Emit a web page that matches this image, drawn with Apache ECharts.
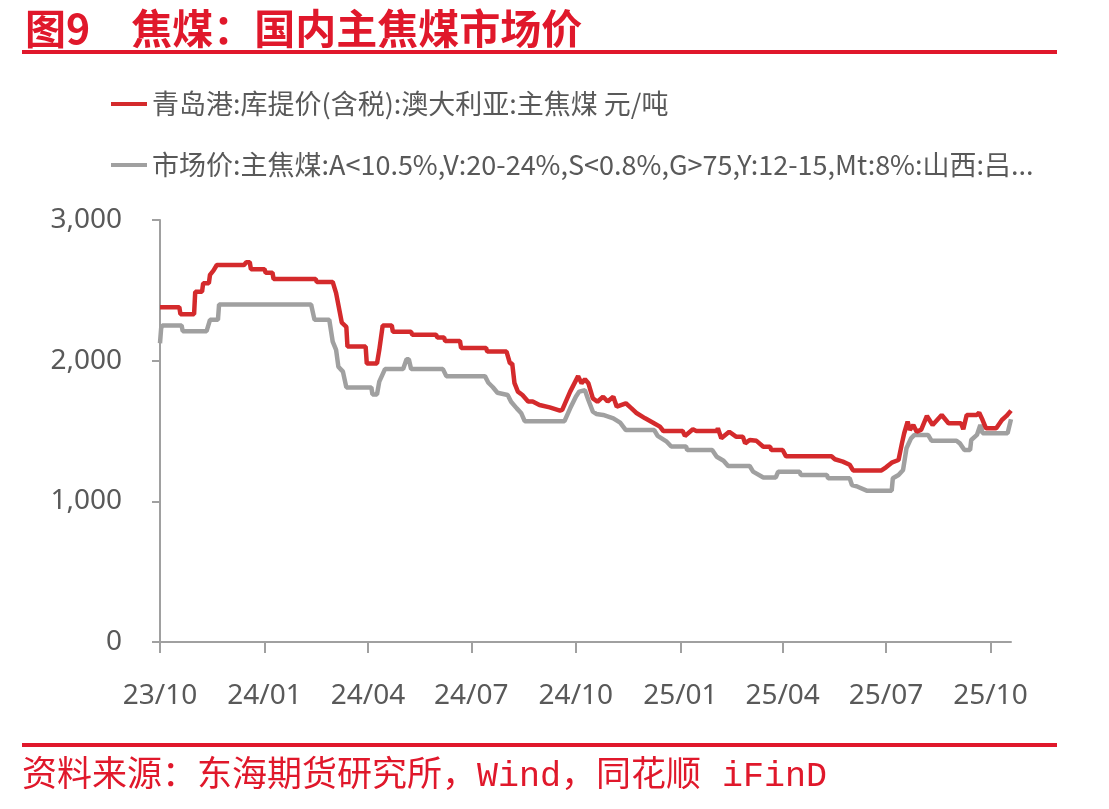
<!DOCTYPE html>
<html>
<head>
<meta charset="utf-8">
<script src="https://cdn.jsdelivr.net/npm/echarts@6/dist/echarts.min.js"></script>
<style>
  html, body { margin: 0; padding: 0; background: #fff; }
  #chart { width: 1109px; height: 809px; }
</style>
</head>
<body>
<div id="chart"></div>
<script>
// 青岛港库提价(澳洲主焦煤)
var redDates = ['2023-10-01','2023-10-18','2023-10-19','2023-10-31','2023-11-01','2023-11-07','2023-11-08','2023-11-13','2023-11-14','2023-11-17','2023-11-20','2023-12-14','2023-12-16','2023-12-19','2023-12-20','2024-01-01','2024-01-02','2024-01-08','2024-01-09','2024-02-15','2024-02-16','2024-03-01','2024-03-04','2024-03-09','2024-03-13','2024-03-14','2024-03-30','2024-03-31','2024-04-09','2024-04-11','2024-04-14','2024-04-22','2024-04-23','2024-05-09','2024-05-10','2024-05-31','2024-06-01','2024-06-07','2024-06-08','2024-06-21','2024-06-22','2024-07-14','2024-07-15','2024-08-01','2024-08-04','2024-08-06','2024-08-08','2024-08-11','2024-08-15','2024-08-20','2024-08-24','2024-08-30','2024-09-08','2024-09-17','2024-09-19','2024-09-26','2024-10-03','2024-10-06','2024-10-09','2024-10-12','2024-10-16','2024-10-20','2024-10-25','2024-10-29','2024-11-03','2024-11-06','2024-11-14','2024-11-19','2024-11-23','2024-12-01','2024-12-08','2024-12-14','2024-12-17','2025-01-03','2025-01-05','2025-01-12','2025-01-15','2025-02-02','2025-02-03','2025-02-06','2025-02-13','2025-02-19','2025-02-25','2025-02-27','2025-03-03','2025-03-09','2025-03-15','2025-03-21','2025-03-22','2025-04-01','2025-04-04','2025-05-14','2025-05-17','2025-05-24','2025-05-30','2025-06-02','2025-06-27','2025-07-01','2025-07-06','2025-07-12','2025-07-15','2025-07-17','2025-07-20','2025-07-22','2025-07-25','2025-07-28','2025-08-01','2025-08-06','2025-08-11','2025-08-19','2025-08-25','2025-09-05','2025-09-07','2025-09-10','2025-09-19','2025-09-21','2025-09-24','2025-09-27','2025-10-06','2025-10-11','2025-10-15','2025-10-19'];
var redValues = [2380,2380,2330,2330,2490,2490,2550,2550,2610,2640,2680,2680,2700,2700,2650,2650,2625,2625,2580,2580,2560,2560,2480,2270,2240,2100,2100,1980,1980,2076,2250,2250,2205,2205,2185,2185,2165,2165,2140,2140,2090,2090,2065,2065,1980,1980,1840,1780,1756,1710,1710,1685,1668,1645,1650,1780,1890,1840,1868,1840,1732,1708,1744,1710,1744,1673,1697,1661,1630,1590,1559,1531,1500,1500,1465,1512,1500,1500,1519,1448,1495,1460,1460,1412,1436,1430,1388,1388,1365,1365,1320,1320,1299,1282,1260,1220,1220,1242,1275,1294,1412,1484,1566,1507,1543,1495,1510,1607,1543,1614,1555,1555,1512,1614,1614,1630,1578,1519,1519,1578,1607,1645];

// 山西吕梁主焦煤市场价
var grayDates = ['2023-10-01','2023-10-02','2023-10-03','2023-10-20','2023-10-21','2023-11-11','2023-11-14','2023-11-21','2023-11-22','2024-02-11','2024-02-14','2024-02-27','2024-03-01','2024-03-04','2024-03-06','2024-03-10','2024-03-13','2024-04-04','2024-04-05','2024-04-09','2024-04-11','2024-04-16','2024-05-02','2024-05-05','2024-05-07','2024-05-09','2024-06-06','2024-06-09','2024-07-13','2024-07-16','2024-07-20','2024-07-24','2024-08-02','2024-08-05','2024-08-10','2024-08-14','2024-08-17','2024-09-21','2024-09-26','2024-10-01','2024-10-04','2024-10-09','2024-10-12','2024-10-16','2024-10-19','2024-10-25','2024-11-03','2024-11-09','2024-11-14','2024-12-09','2024-12-12','2024-12-20','2024-12-24','2025-01-06','2025-01-07','2025-01-29','2025-02-02','2025-02-08','2025-02-12','2025-03-03','2025-03-06','2025-03-15','2025-03-26','2025-03-28','2025-04-16','2025-04-17','2025-05-10','2025-05-11','2025-05-30','2025-06-01','2025-06-06','2025-06-14','2025-07-06','2025-07-07','2025-07-12','2025-07-16','2025-07-19','2025-07-23','2025-07-26','2025-08-07','2025-08-10','2025-09-01','2025-09-04','2025-09-08','2025-09-13','2025-09-14','2025-09-19','2025-09-22','2025-09-24','2025-10-16','2025-10-19'];
var grayValues = [2124,2230,2250,2250,2210,2210,2290,2290,2400,2400,2290,2290,2135,2076,1957,1922,1810,1810,1760,1760,1851,1940,1940,2010,2010,1940,1940,1890,1890,1843,1811,1772,1756,1708,1661,1626,1570,1570,1661,1744,1780,1790,1720,1637,1621,1614,1590,1559,1507,1507,1465,1424,1390,1390,1365,1365,1317,1289,1251,1251,1211,1170,1170,1210,1210,1187,1187,1164,1164,1116,1104,1076,1076,1164,1187,1223,1377,1448,1472,1472,1431,1431,1412,1365,1365,1436,1472,1543,1484,1484,1583];

var tickDates = ['2023-10-01','2024-01-01','2024-04-01','2024-07-01','2024-10-01','2025-01-01','2025-04-01','2025-07-01','2025-10-01'];
var tickLabels = ['23/10','24/01','24/04','24/07','24/10','25/01','25/04','25/07','25/10'];

var seriesNames = ['青岛港:库提价(含税):澳大利亚:主焦煤 元/吨', '市场价:主焦煤:A<10.5%,V:20-24%,S<0.8%,G>75,Y:12-15,Mt:8%:山西:吕梁 元/吨'];

var chart = echarts.init(document.getElementById('chart'), null, { renderer: 'canvas' });

// 日期转时间戳(本地时间)
function ts(s) { return echarts.number.parseDate(s).getTime(); }
var tickTs = tickDates.map(ts);

var redColor = '#d42a2c';
var grayColor = '#a0a0a0';
var axisColor = '#a0a0a0';
var textColor = '#595959';
var brandRed = '#e0182b';

var option = {
  animation: false,
  backgroundColor: '#fff',
  title: {
    text: '图9　焦煤：国内主焦煤市场价',
    left: 20,
    top: 3,
    textStyle: {
      color: brandRed,
      fontSize: 41,
      fontWeight: 'bold',
      fontFamily: 'Noto Sans CJK SC'
    }
  },
  graphic: [
    { type: 'rect', shape: { x: 22, y: 50, width: 1035, height: 4 }, style: { fill: brandRed } },
    { type: 'rect', shape: { x: 22, y: 743, width: 1035, height: 4 }, style: { fill: brandRed } },
    {
      type: 'text', left: 22, top: 759,
      style: {
        text: '资料来源：东海期货研究所，Wind，同花顺 iFinD',
        fill: brandRed,
        fontSize: 35,
        fontFamily: '"Liberation Mono", "Noto Sans CJK SC"'
      }
    }
  ],
  legend: {
    orient: 'vertical',
    left: 106,
    top: 84,
    itemWidth: 36,
    itemHeight: 4,
    itemGap: 31,
    icon: 'rect',
    data: seriesNames,
    textStyle: {
      color: textColor,
      fontSize: 27,
      lineHeight: 30,
      fontFamily: 'Noto Sans CJK SC',
      width: 902,
      overflow: 'truncate',
      ellipsis: '...'
    }
  },
  grid: {
    left: 160,
    right: 98,
    top: 220,
    bottom: 167
  },
  xAxis: {
    type: 'value',
    min: ts('2023-10-01'),
    max: ts('2025-10-19'),
    axisLine: { show: true, lineStyle: { color: axisColor, width: 2 } },
    axisTick: { show: true, length: 11, lineStyle: { color: axisColor, width: 2 }, customValues: tickTs },
    splitLine: { show: false },
    axisLabel: {
      customValues: tickTs,
      color: textColor,
      fontSize: 28,
      fontFamily: 'Noto Sans',
      margin: 40,
      formatter: function (v) {
        var i = tickTs.indexOf(v);
        return i >= 0 ? tickLabels[i] : '';
      }
    }
  },
  yAxis: {
    type: 'value',
    min: 0,
    max: 3000,
    interval: 1000,
    axisLine: { show: true, lineStyle: { color: axisColor, width: 2 } },
    axisTick: { show: true, length: 8, lineStyle: { color: axisColor, width: 2 } },
    splitLine: { show: false },
    axisLabel: {
      color: textColor,
      fontSize: 28,
      fontFamily: 'Noto Sans',
      margin: 38,
      formatter: function (v) { return v.toLocaleString('en-US'); }
    }
  },
  series: [
    {
      name: seriesNames[0],
      type: 'line',
      showSymbol: false,
      z: 3,
      color: redColor,
      lineStyle: { color: redColor, width: 4.5 },
      data: redDates.map(function (d, i) { return [ts(d), redValues[i]]; })
    },
    {
      name: seriesNames[1],
      type: 'line',
      showSymbol: false,
      z: 2,
      color: grayColor,
      lineStyle: { color: grayColor, width: 4.5 },
      data: grayDates.map(function (d, i) { return [ts(d), grayValues[i]]; })
    }
  ]
};

chart.setOption(option);
</script>
</body>
</html>
